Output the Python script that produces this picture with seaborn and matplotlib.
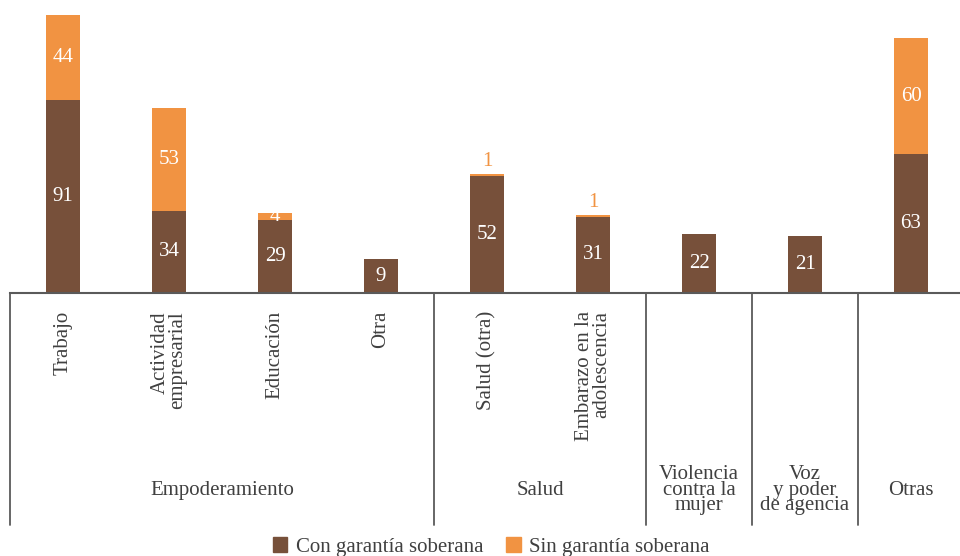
import numpy as np
import seaborn as sns
import matplotlib.pyplot as plt
import matplotlib.transforms as mtransforms
from matplotlib.patches import Patch

# Data #

categories = ["Trabajo", "Actividad empresarial", "Educación", "Otra", "Salud (otra)",
              "Embarazo en la adolescencia", "Violencia", "Voz", "Otras"]
tick_labels = ["Trabajo", "Actividad\nempresarial", "Educación", "Otra", "Salud (otra)",
               "Embarazo en la\nadolescencia", "", "", ""]
con_garantia = np.array([91, 34, 29, 9, 52, 31, 22, 21, 63])
sin_garantia = np.array([44, 53, 4, 0, 1, 1, 0, 0, 60])

groups = ["Empoderamiento", "Salud", "Violencia\ncontra la\nmujer", "Voz\ny poder\nde agencia", "Otras"]
group_start = [0, 4, 6, 7, 8]
group_end = [3, 5, 6, 7, 8]

series_names = ["Con garantía soberana", "Sin garantía soberana"]

BROWN = "#77503A"
ORANGE = "#F19342"
TEXT = "#404040"
LINE = "#5a5a5a"
FS = 15

# the value axis starts below zero and the bars rise from the axis line
YMIN = -8.4
YMAX = 142.6


# Main #

sns.set_style("white")
plt.rcParams["font.family"] = "serif"
plt.rcParams["font.serif"] = ["Liberation Serif", "DejaVu Serif"]

fig = plt.figure(figsize=(9.6, 5.56), dpi=100)
ax = fig.add_axes([10 / 960, 1 - 293 / 556, 954 / 960, 293 / 556])

totals = con_garantia + sin_garantia
sns.barplot(x=categories, y=totals - YMIN, bottom=YMIN, order=categories, color=ORANGE,
            saturation=1, width=0.32, linewidth=0, ax=ax)
sns.barplot(x=categories, y=con_garantia - YMIN, bottom=YMIN, order=categories, color=BROWN,
            saturation=1, width=0.32, linewidth=0, ax=ax)

ax.set_xlim(-0.5, len(categories) - 0.5)
ax.set_ylim(YMIN, YMAX)

# value labels
for i in range(len(categories)):
	ax.text(i, (YMIN + con_garantia[i]) / 2, str(con_garantia[i]), ha="center", va="center",
	        color="white", fontsize=FS)
	s = sin_garantia[i]
	if s == 0:
		continue
	if s > 1:
		ax.text(i, con_garantia[i] + s / 2, str(s), ha="center", va="center", color="white", fontsize=FS)
	else:
		ax.text(i, totals[i] + 1.5, str(s), ha="center", va="bottom", color=ORANGE, fontsize=FS)

# axes styling
for side in ["top", "right", "left"]:
	ax.spines[side].set_visible(False)
ax.spines["bottom"].set_color(LINE)
ax.spines["bottom"].set_linewidth(1.5)
ax.set_yticks([])
ax.set_ylabel("")
ax.set_xlabel("")
ax.set_xticks(range(len(categories)))
ax.set_xticklabels(tick_labels, rotation=90, va="top", ha="center", multialignment="right",
                   fontsize=FS, color=TEXT, linespacing=0.85)
ax.tick_params(axis="x", length=0, pad=13)

# group separators and labels below the axis
trans = mtransforms.blended_transform_factory(ax.transData, ax.transAxes)
bottom_frac = (293 - 525) / 293
for start in group_start:
	ax.plot([start - 0.5, start - 0.5], [0, bottom_frac], transform=trans, color=LINE,
	        linewidth=1.3, clip_on=False)

for name, start, end in zip(groups, group_start, group_end):
	ax.text((start + end) / 2, (293 - 490) / 293, name, transform=trans, ha="center", va="center",
	        fontsize=FS, color=TEXT, linespacing=0.75)

handles = [Patch(color=BROWN, label=series_names[0]), Patch(color=ORANGE, label=series_names[1])]
fig.legend(handles=handles, loc="center", bbox_to_anchor=(491 / 960, 1 - 547 / 556), ncol=2,
           frameon=False, fontsize=FS, handlelength=0.7, handleheight=0.7, handletextpad=0.4,
           columnspacing=1.1, labelcolor=TEXT)

plt.savefig("out.png", dpi=100)
